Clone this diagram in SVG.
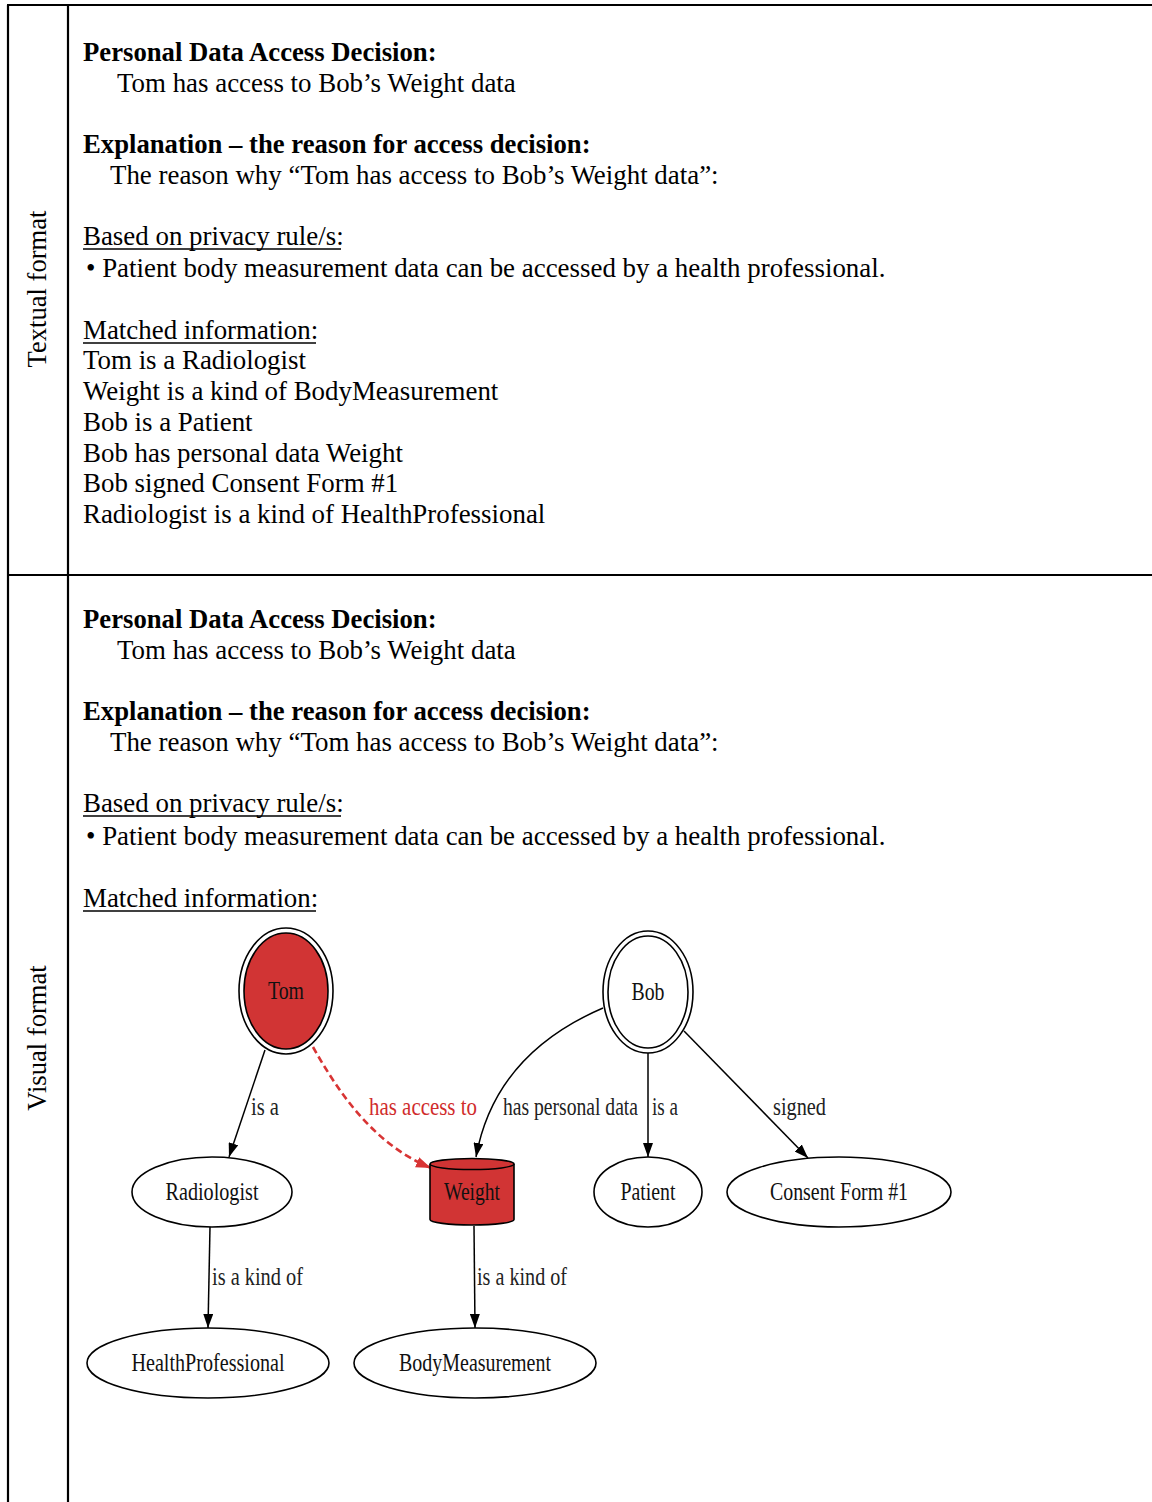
<svg xmlns="http://www.w3.org/2000/svg" width="1152" height="1502" viewBox="0 0 1152 1502">
  <style>
    .frame { stroke: #000; stroke-width: 2.2; fill: none; }
    .body { font-family: "Liberation Serif", "Times New Roman", serif; font-size: 26.9px; fill: #000; }
    .bold { font-weight: bold; font-size: 26.7px; }
    .side { font-family: "Liberation Serif", "Times New Roman", serif; font-size: 26.6px; fill: #000; text-anchor: middle; }
    .ul { stroke: #000; stroke-width: 1.6; }
    .node { fill: #fff; stroke: #000; stroke-width: 1.6; }
    .hot { fill: #d13434; stroke: #000; stroke-width: 1.6; }
    .nlabel { font-family: "Liberation Serif", "Times New Roman", serif; font-size: 25px; fill: #111; text-anchor: middle; }
    .elabel { font-family: "Liberation Serif", "Times New Roman", serif; font-size: 25px; fill: #222; }
    .red { fill: #d02c2c; }
    .edge { fill: none; stroke: #000; stroke-width: 1.5; }
    .access { fill: none; stroke: #d83434; stroke-width: 2.6; stroke-dasharray: 7 4; }
  </style>
  <defs>
    <marker id="arrow" viewBox="0 0 14 10" refX="14" refY="5" markerWidth="14" markerHeight="10" markerUnits="userSpaceOnUse" orient="auto">
      <path d="M0,0 L14,5 L0,10 z" fill="#000"/>
    </marker>
    <marker id="arrow-red" viewBox="0 0 14 10" refX="14" refY="5" markerWidth="15" markerHeight="11" markerUnits="userSpaceOnUse" orient="auto">
      <path d="M0,0 L14,5 L0,10 z" fill="#d83434"/>
    </marker>
  </defs>

  <rect width="1152" height="1502" fill="#fff"/>

  <!-- table frame -->
  <g id="table">
    <line class="frame" x1="7" y1="5" x2="1152" y2="5"/>
    <line class="frame" x1="8" y1="5" x2="8" y2="1502"/>
    <line class="frame" x1="68" y1="5" x2="68" y2="1502"/>
    <line class="frame" x1="8" y1="575" x2="1152" y2="575"/>
    <text class="side" transform="translate(46,289) rotate(-90)">Textual format</text>
    <text class="side" transform="translate(46,1038) rotate(-90)">Visual format</text>
  </g>

  <!-- textual explanation -->
  <g id="textual">
    <text class="body bold" x="83" y="61">Personal Data Access Decision:</text>
    <text class="body" x="117" y="92">Tom has access to Bob’s Weight data</text>
    <text class="body bold" x="83" y="153">Explanation – the reason for access decision:</text>
    <text class="body" x="110" y="184">The reason why “Tom has access to Bob’s Weight data”:</text>
    <text class="body" x="83" y="245">Based on privacy rule/s:</text>
    <line class="ul" x1="83" y1="249" x2="341" y2="249"/>
    <text class="body" x="86" y="277">• Patient body measurement data can be accessed by a health professional.</text>
    <text class="body" x="83" y="339">Matched information:</text>
    <line class="ul" x1="83" y1="343" x2="316" y2="343"/>
    <text class="body" x="83" y="369">Tom is a Radiologist</text>
    <text class="body" x="83" y="400">Weight is a kind of BodyMeasurement</text>
    <text class="body" x="83" y="431">Bob is a Patient</text>
    <text class="body" x="83" y="462">Bob has personal data Weight</text>
    <text class="body" x="83" y="492">Bob signed Consent Form #1</text>
    <text class="body" x="83" y="523">Radiologist is a kind of HealthProfessional</text>
  </g>

  <!-- visual explanation header -->
  <g id="visual-header">
    <text class="body bold" x="83" y="628">Personal Data Access Decision:</text>
    <text class="body" x="117" y="659">Tom has access to Bob’s Weight data</text>
    <text class="body bold" x="83" y="720">Explanation – the reason for access decision:</text>
    <text class="body" x="110" y="751">The reason why “Tom has access to Bob’s Weight data”:</text>
    <text class="body" x="83" y="812">Based on privacy rule/s:</text>
    <line class="ul" x1="83" y1="816" x2="341" y2="816"/>
    <text class="body" x="86" y="845">• Patient body measurement data can be accessed by a health professional.</text>
    <text class="body" x="83" y="907">Matched information:</text>
    <line class="ul" x1="83" y1="911" x2="316" y2="911"/>
  </g>

  <!-- graph connectors -->
  <g id="connectors">
    <path class="edge" d="M265,1050 L229,1157" marker-end="url(#arrow)"/>
    <path class="access" d="M313,1047 C340,1095 375,1145 431,1168" marker-end="url(#arrow-red)"/>
    <path class="edge" d="M603,1008 C540,1035 490,1080 476,1157" marker-end="url(#arrow)"/>
    <path class="edge" d="M648,1053 L648,1157" marker-end="url(#arrow)"/>
    <path class="edge" d="M684,1031 L808,1158" marker-end="url(#arrow)"/>
    <path class="edge" d="M210,1227 L208,1328" marker-end="url(#arrow)"/>
    <path class="edge" d="M474,1226 L475,1328" marker-end="url(#arrow)"/>

    <text class="elabel" x="251" y="1115" textLength="28" lengthAdjust="spacingAndGlyphs">is a</text>
    <text class="elabel red" x="369" y="1115" textLength="108" lengthAdjust="spacingAndGlyphs">has access to</text>
    <text class="elabel" x="503" y="1115" textLength="135" lengthAdjust="spacingAndGlyphs">has personal data</text>
    <text class="elabel" x="652" y="1115" textLength="26" lengthAdjust="spacingAndGlyphs">is a</text>
    <text class="elabel" x="773" y="1115" textLength="53" lengthAdjust="spacingAndGlyphs">signed</text>
    <text class="elabel" x="212" y="1285" textLength="91" lengthAdjust="spacingAndGlyphs">is a kind of</text>
    <text class="elabel" x="477" y="1285" textLength="90" lengthAdjust="spacingAndGlyphs">is a kind of</text>
  </g>

  <!-- graph nodes -->
  <g id="node-tom">
    <ellipse class="node" cx="286" cy="991" rx="47" ry="63"/>
    <ellipse class="hot" cx="286" cy="991" rx="42" ry="58"/>
    <text class="nlabel" x="286" y="999" textLength="36" lengthAdjust="spacingAndGlyphs">Tom</text>
  </g>
  <g id="node-bob">
    <ellipse class="node" cx="648" cy="992" rx="45" ry="61"/>
    <ellipse class="node" cx="648" cy="992" rx="40" ry="56"/>
    <text class="nlabel" x="648" y="1000" textLength="33" lengthAdjust="spacingAndGlyphs">Bob</text>
  </g>
  <g id="node-radiologist">
    <ellipse class="node" cx="212" cy="1192" rx="80" ry="35"/>
    <text class="nlabel" x="212" y="1200" textLength="93" lengthAdjust="spacingAndGlyphs">Radiologist</text>
  </g>
  <g id="node-weight">
    <path class="hot" d="M430,1164 A42,5.5 0 0 1 514,1164 L514,1219.5 A42,5.5 0 0 1 430,1219.5 Z"/>
    <path class="edge" d="M430,1164 A42,5.5 0 0 0 514,1164"/>
    <text class="nlabel" x="472" y="1200" textLength="56" lengthAdjust="spacingAndGlyphs">Weight</text>
  </g>
  <g id="node-patient">
    <ellipse class="node" cx="648" cy="1192" rx="54" ry="35"/>
    <text class="nlabel" x="648" y="1200" textLength="55" lengthAdjust="spacingAndGlyphs">Patient</text>
  </g>
  <g id="node-consent">
    <ellipse class="node" cx="839" cy="1192" rx="112" ry="35"/>
    <text class="nlabel" x="839" y="1200" textLength="138" lengthAdjust="spacingAndGlyphs">Consent Form #1</text>
  </g>
  <g id="node-healthprofessional">
    <ellipse class="node" cx="208" cy="1363" rx="121" ry="35"/>
    <text class="nlabel" x="208" y="1371" textLength="153" lengthAdjust="spacingAndGlyphs">HealthProfessional</text>
  </g>
  <g id="node-bodymeasurement">
    <ellipse class="node" cx="475" cy="1363" rx="121" ry="35"/>
    <text class="nlabel" x="475" y="1371" textLength="152" lengthAdjust="spacingAndGlyphs">BodyMeasurement</text>
  </g>
</svg>
